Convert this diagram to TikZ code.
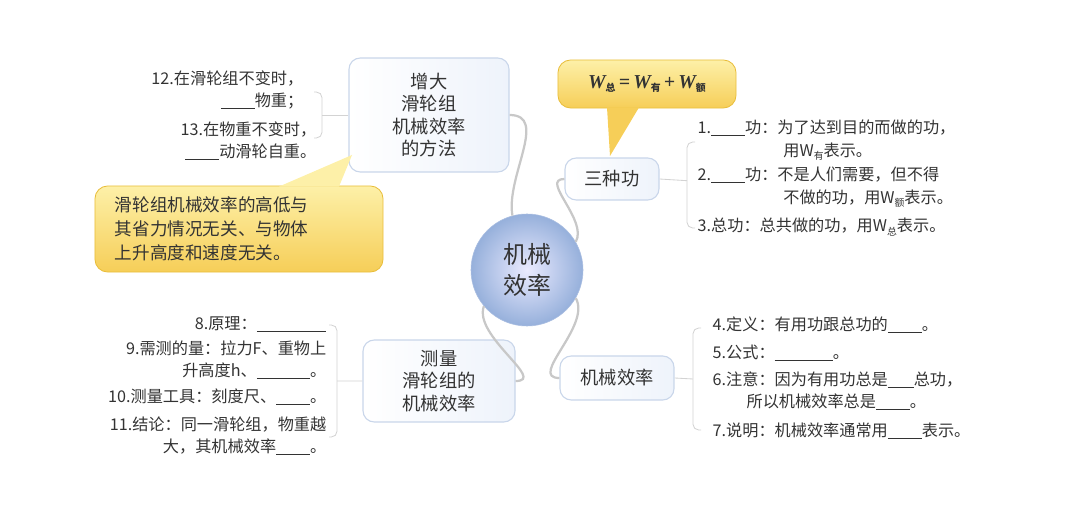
\documentclass[tikz,border=0pt]{standalone}
\usepackage{fontspec}
\setmainfont{Liberation Serif}
\newfontfamily\cjk{Noto Sans CJK SC}
\usetikzlibrary{calc}
\definecolor{boxline}{HTML}{C9D6EA}
\definecolor{boxfill}{HTML}{EEF3FB}
\definecolor{callline}{HTML}{E9BE3C}
\definecolor{calltop}{HTML}{FDF0A8}
\definecolor{callbot}{HTML}{F6CE58}
\definecolor{linkgray}{HTML}{C8C8C8}
\definecolor{txt}{HTML}{333333}
\newcommand{\blank}[1]{\underline{\hspace{#1}}}
\newcommand{\Wsub}[1]{\textit{W}\raisebox{-0.35ex}{\fontsize{7}{7}\selectfont #1}}
\tikzset{
  topic/.style={draw=boxline,line width=0.8pt,rounded corners=8pt,left color=white,right color=boxfill,
    align=center,font=\cjk\fontsize{13}{16}\selectfont,text=txt},
  callout/.style={draw=callline,line width=0.6pt,rounded corners=9pt,top color=calltop,bottom color=callbot,
    align=left,font=\cjk\fontsize{12.5}{17}\selectfont,text=txt},
  item/.style={anchor=west,align=left,inner sep=1pt,font=\cjk\fontsize{11.5}{16}\selectfont,text=txt},
  itemr/.style={anchor=east,align=right,inner sep=1pt,font=\cjk\fontsize{11.5}{16}\selectfont,text=txt},
  link/.style={draw=linkgray,line width=1.6pt},
  brace/.style={draw=linkgray!80,line width=0.6pt,rounded corners=4pt},
}
\begin{document}
\begin{tikzpicture}[x=0.025cm,y=-0.025cm]
\useasboundingbox (0,0) rectangle (1080,517);
% centre
\node (core) at (527,270) [circle,minimum size=112\pgflinewidth,minimum size=2.8cm,inner color=blue!8,outer color={rgb,255:red,150;green,176;blue,219},
  draw={rgb,255:red,170;green,190;blue,225},align=center,font=\cjk\fontsize{17}{22}\selectfont,text=txt] {机械\\效率};
% branches
\node (method) at (429,115) [topic,minimum width=4cm,minimum height=2.85cm] {增大\\滑轮组\\机械效率\\的方法};
\node (kinds) at (612,179) [topic,minimum width=2.35cm,minimum height=1.05cm] {三种功};
\node (measure) at (439,381) [topic,minimum width=3.8cm,minimum height=2.05cm] {测量\\滑轮组的\\机械效率};
\node (eff) at (617,378) [topic,minimum width=2.85cm,minimum height=1.1cm] {机械效率};
\draw[link] (method.east) to[out=0,in=100] (core.105);
\draw[link] (core.30) to[out=60,in=180] (kinds.west);
\draw[link] (core.220) to[out=250,in=0] (measure.east);
\draw[link] (core.330) to[out=300,in=180] (eff.west);
% callouts
\node (sum) at (647,84) [callout,minimum width=4.45cm,minimum height=1.2cm,font=\fontsize{14}{16}\selectfont\bfseries\itshape]
  {\Wsub{\cjk 总}\,=\,\Wsub{\cjk 有}\,+\,\Wsub{\cjk 额}};
\fill[callbot] ($(sum.south)+(-40,-1)$) -- (610,156) -- ($(sum.south)+(-8,-1)$) -- cycle;
\node (note) at (239,229) [callout,minimum width=7.2cm,minimum height=2.15cm,text width=6.2cm]
  {滑轮组机械效率的高低与\\其省力情况无关、与物体\\上升高度和速度无关。};
\fill[calltop] ($(note.north)+(40,1)$) -- (352,155) -- ($(note.north)+(100,1)$) -- cycle;
% three kinds of work
\coordinate (kt) at (687,142);
\coordinate (kb) at (687,228);
\draw[brace] (kinds.east) -- ($(kt)!0.45!(kb)$);
\draw[brace] ($(kt)+(8,0)$) -- (kt) -- (kb) -- ($(kb)+(8,0)$);
\node (k1) at (696,140) [item] {1.\blank{2.1em}功：为了达到目的而做的功，\\\hspace{5.3em}用\Wsub{有}表示。};
\node (k2) at (696,187) [item] {2.\blank{2.1em}功：不是人们需要，但不得\\\hspace{5.3em}不做的功，用\Wsub{额}表示。};
\node (k3) at (696,227) [item] {3.总功：总共做的功，用\Wsub{总}表示。};
% efficiency
\coordinate (et) at (693,328);
\coordinate (eb) at (693,430);
\draw[brace] (eff.east) -- ($(et)!0.5!(eb)$);
\draw[brace] ($(et)+(8,0)$) -- (et) -- (eb) -- ($(eb)+(8,0)$);
\node (e4) at (711,325) [item] {4.定义：有用功跟总功的\blank{2.1em}。};
\node (e5) at (711,353) [item] {5.公式：\blank{3.6em}。};
\node (e6) at (711,391) [item] {6.注意：因为有用功总是\blank{1.6em}总功，\\\hspace{2.1em}所以机械效率总是\blank{2.1em}。};
\node (e7) at (711,431) [item] {7.说明：机械效率通常用\blank{2.1em}表示。};
% measuring
\coordinate (mt) at (337,325);
\coordinate (mb) at (337,437);
\draw[brace] (measure.west) -- ($(mt)!0.5!(mb)$);
\draw[brace] ($(mt)+(-8,0)$) -- (mt) -- (mb) -- ($(mb)+(-8,0)$);
\node (m8) at (328,324) [itemr] {8.原理：\blank{4.3em}};
\node (m9) at (328,360) [itemr] {9.需测的量：拉力\textit{F}、重物上\\升高度\textit{h}、\blank{3.3em}。};
\node (m10) at (328,397) [itemr] {10.测量工具：刻度尺、\blank{2.1em}。};
\node (m11) at (328,436) [itemr] {11.结论：同一滑轮组，物重越\\大，其机械效率\blank{2.1em}。};
% raising efficiency
\coordinate (rt) at (322,92);
\coordinate (rb) at (322,138);
\draw[brace] (method.west) -- ($(rt)!0.5!(rb)$);
\draw[brace] ($(rt)+(-8,0)$) -- (rt) -- (rb) -- ($(rb)+(-8,0)$);
\node (r12) at (305,90) [itemr] {12.在滑轮组不变时，\\\blank{2.1em}物重；\hspace{4.6em}};
\node (r13) at (318,141) [itemr] {13.在物重不变时，\hspace{1em}\\\blank{2.1em}动滑轮自重。};
\end{tikzpicture}
\end{document}
